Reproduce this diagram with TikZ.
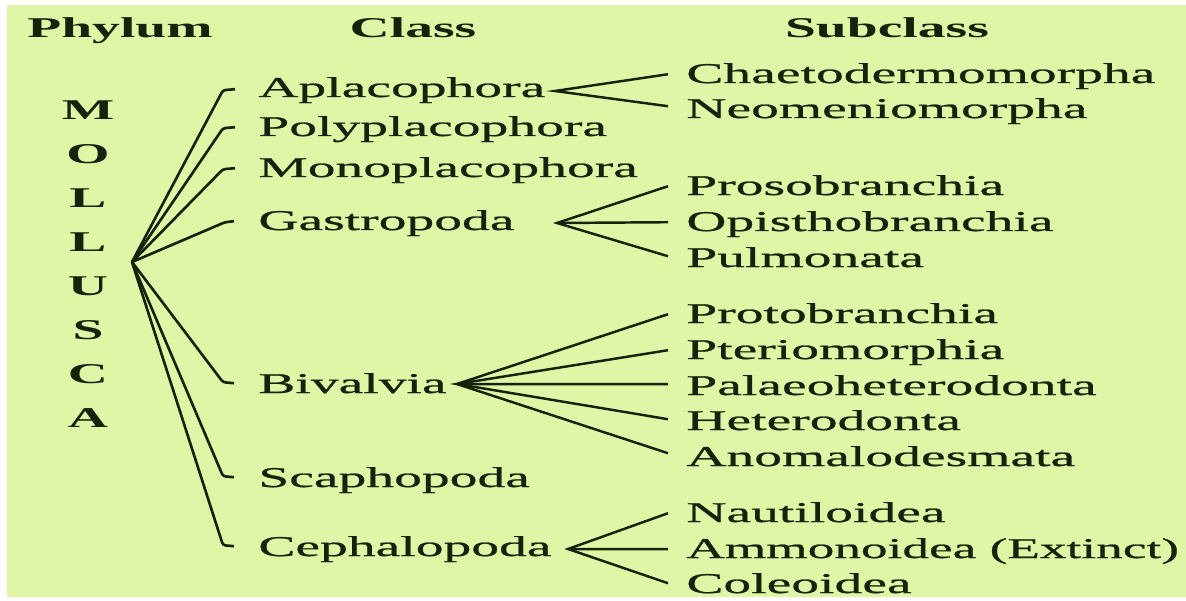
\documentclass[tikz,border=0pt]{standalone}
\usepackage{fontspec}
\setmainfont[FakeStretch=1.94, UprightFeatures={FakeBold=0.8}]{Liberation Serif}
\newfontfamily\narrowserif[FakeStretch=1.86, FakeBold=0.8]{Liberation Serif}
\usepackage{xcolor}
\usepackage{tikz}
\usetikzlibrary{calc}
\definecolor{leaf}{RGB}{223,246,167}
\definecolor{ink}{RGB}{22,34,12}

\begin{document}
\begin{tikzpicture}[x=0.02cm, y=-0.02cm,
  head/.style={anchor=base, inner sep=0pt, text=ink, font=\fontsize{16.3}{18}\selectfont\bfseries},
  phy/.style={inner sep=0pt, text=ink, align=center, font=\fontsize{16.3}{25.1}\selectfont\bfseries},
  cls/.style={anchor=base west, inner sep=0pt, text=ink, text height=12pt, text depth=2pt,
              font=\fontsize{16.3}{18}\selectfont},
  link/.style={draw=ink, line width=1.5pt, rounded corners=1.5pt},
  fan/.style={draw=ink, line width=1.4pt}
]
\useasboundingbox[fill=white] (0,0) rectangle (1186,601);
\fill[leaf] (7,5) rectangle (1186,597);

\node[head] (phylum) at (120,38) {Phylum};
\node[head] (class) at (413,38) {Class};
\node[head] (subclass) at (887,38) {Subclass};

\node[phy] (mollusca) at (88,264) {M\\O\\L\\L\\U\\S\\C\\A};
\coordinate (root) at (132,262);

\node[cls] (apla) at (258,97) {Aplacophora};
\node[cls] (poly) at (258,136) {Polyplacophora};
\node[cls] (mono) at (258,177) {Monoplacophora};
\node[cls] (gastro) at (258,230) {Gastropoda};
\node[cls] (biv) at (258,393) {Bivalvia};
\node[cls] (scapho) at (258,487) {Scaphopoda};
\node[cls] (cephalo) at (258,556) {Cephalopoda};

\node[cls] (chaeto) at (686,83) {Chaetodermomorpha};
\node[cls] (neo) at (686,118) {Neomeniomorpha};
\node[cls] (proso) at (686,195) {Prosobranchia};
\node[cls] (opis) at (686,231) {Opisthobranchia};
\node[cls] (pulmo) at (686,267) {Pulmonata};
\node[cls] (proto) at (686,323) {Protobranchia};
\node[cls] (pterio) at (686,359) {Pteriomorphia};
\node[cls] (palaeo) at (686,395) {Palaeoheterodonta};
\node[cls] (hetero) at (686,430) {Heterodonta};
\node[cls] (anomalo) at (686,466) {Anomalodesmata};
\node[cls] (nauti) at (686,522) {Nautiloidea};
\node[cls] (ammono) at (686,558) {\narrowserif Ammonoidea (Extinct)};
\node[cls] (coleo) at (686,593) {Coleoidea};

\coordinate (aplaFan) at (555,91);
\coordinate (gastroFan) at (557,223);
\coordinate (bivFan) at (457,384);
\coordinate (cephaloFan) at (568,549);

\draw[link] (root) -- ($(apla.west)+(-35,2)$) -- ($(apla.west)+(-23,1)$);
\draw[link] (root) -- ($(poly.west)+(-35,1)$) -- ($(poly.west)+(-23,0)$);
\draw[link] (root) -- ($(mono.west)+(-35,1)$) -- ($(mono.west)+(-23,0)$);
\draw[link] (root) -- ($(gastro.west)+(-33,1)$) -- ($(gastro.west)+(-24,0)$);
\draw[link] (root) -- ($(biv.west)+(-35,-2)$) -- ($(biv.west)+(-24,-1)$);
\draw[link] (root) -- ($(scapho.west)+(-35,-2)$) -- ($(scapho.west)+(-24,-1)$);
\draw[link] (root) -- ($(cephalo.west)+(-35,-2)$) -- ($(cephalo.west)+(-24,-1)$);

\draw[fan] ($(chaeto.west)+(-18,0)$) -- (aplaFan) -- ($(neo.west)+(-18,-3)$);
\draw[fan] ($(proso.west)+(-18,0)$) -- (gastroFan) -- ($(pulmo.west)+(-18,-2)$);
\draw[fan] (gastroFan) -- ($(opis.west)+(-18,0)$);
\draw[fan] ($(proto.west)+(-18,0)$) -- (bivFan) -- ($(anomalo.west)+(-18,-4)$);
\draw[fan] ($(pterio.west)+(-18,0)$) -- (bivFan) -- ($(hetero.west)+(-18,-2)$);
\draw[fan] (bivFan) -- ($(palaeo.west)+(-18,-2)$);
\draw[fan] ($(nauti.west)+(-18,0)$) -- (cephaloFan) -- ($(coleo.west)+(-18,-1)$);
\draw[fan] (cephaloFan) -- ($(ammono.west)+(-18,0)$);
\end{tikzpicture}
\end{document}
